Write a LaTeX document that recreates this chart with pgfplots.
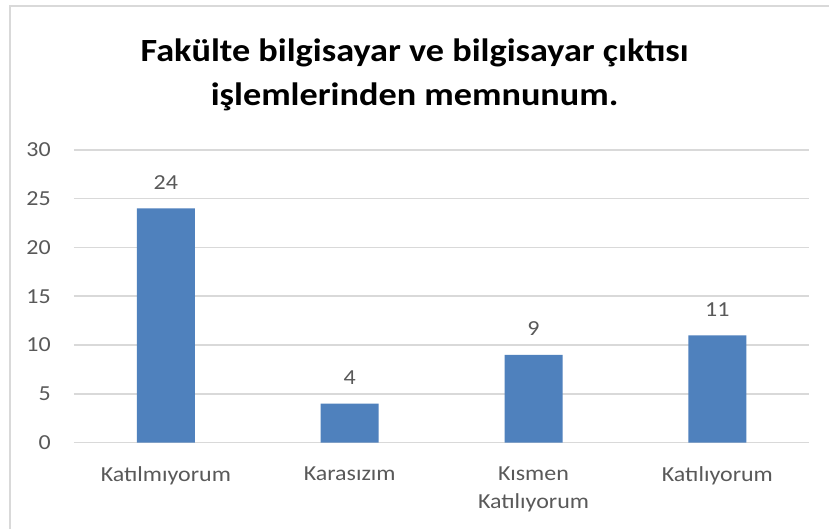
\documentclass[border=0pt]{standalone}
\usepackage{fontspec}
\setmainfont{Carlito}[FakeStretch=1.12]
\usepackage{pgfplots}
\usepackage{pgfplotstable}
\pgfplotsset{compat=1.18}
\definecolor{barblue}{HTML}{4F81BD}
\definecolor{gridgray}{HTML}{D9D9D9}
\definecolor{labelgray}{HTML}{595959}

% answer counts per category
\pgfplotstableread{
x y
0 24
1 4
2 9
3 11
}\answers

\begin{document}
\begin{tikzpicture}[x=1bp,y=1bp]
\path[fill=white] (0,0) rectangle (830,529);
\draw[gridgray, line width=1.5bp] (10,0) -- (10,523) -- (830,523);
\node[font=\fontsize{32.5}{45}\selectfont\bfseries, align=center] at (415,454)
  {Fakülte bilgisayar ve bilgisayar çıktısı\\işlemlerinden memnunum.};
\begin{axis}[
    at={(74bp,86bp)}, anchor=south west,
    scale only axis, width=736bp, height=293bp,
    ymin=0, ymax=30, ytick={0,5,...,30},
    xmin=-0.5, xmax=3.5,
    xtick=data,
    xticklabels={Katılmıyorum, Karasızım, {Kısmen\\Katılıyorum}, Katılıyorum},
    axis line style={draw=none},
    tick style={draw=none},
    ymajorgrids=true,
    grid style={gridgray, line width=1.5bp},
    /pgf/number format/assume math mode=true,
    yticklabel style={font=\fontsize{21.5}{24}\selectfont, text=labelgray, inner sep=0pt, anchor=east, xshift=-23bp},
    xticklabel style={font=\fontsize{21.5}{28}\selectfont, text=labelgray, inner sep=0pt, anchor=north, align=center, yshift=-20bp},
    ybar, bar width=58bp,
    nodes near coords,
    nodes near coords style={font=\fontsize{21.5}{24}\selectfont, text=labelgray, inner sep=0pt, anchor=center, yshift=26bp},
]
\addplot[fill=barblue, draw=none] table[x=x, y=y] {\answers};
\end{axis}
\end{tikzpicture}
\end{document}
